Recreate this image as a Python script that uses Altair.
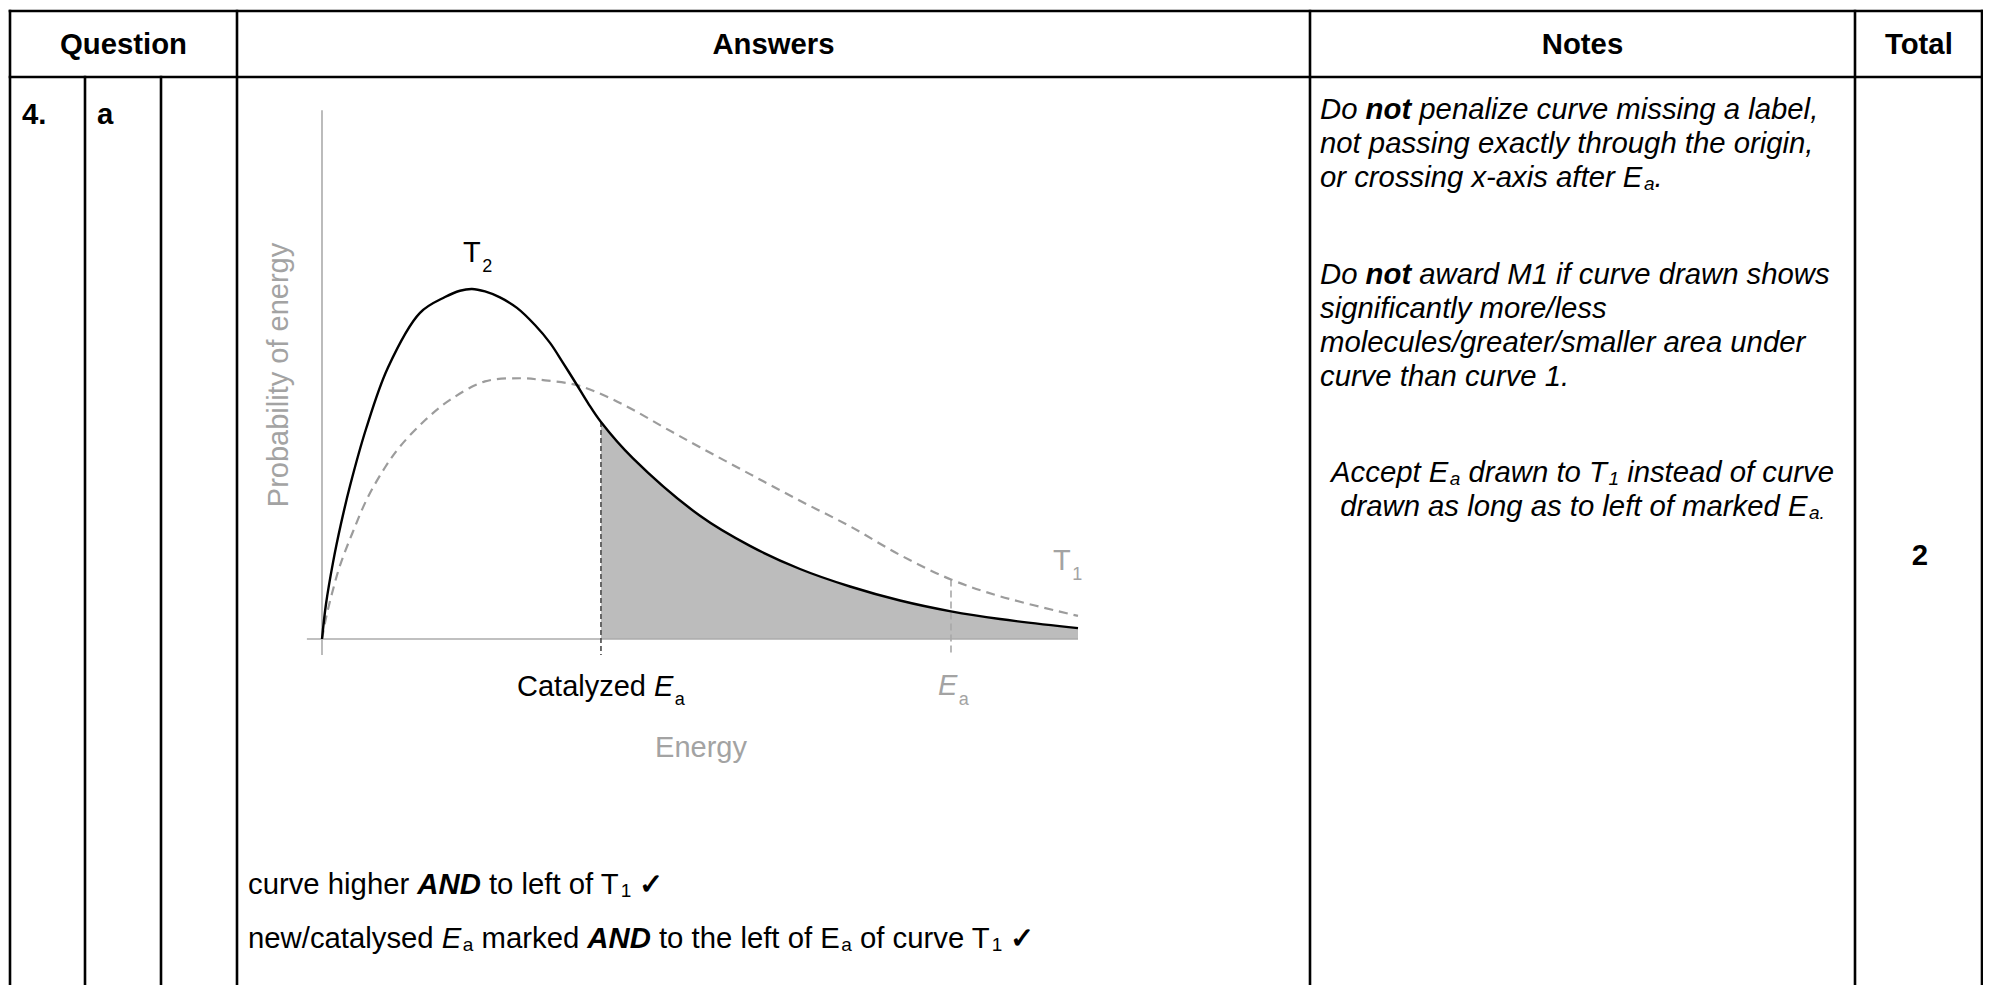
import altair as alt
import pandas as pd

# ------------------------------------------------------------------
# Data
# ------------------------------------------------------------------
# curve T2 (solid, higher curve)
T2_ENERGY = [0.0, 0.053, 0.146, 0.251, 0.370, 0.582, 0.873, 1.296, 1.627, 1.825, 1.984, 2.156,
             2.354, 2.579, 2.817, 3.016, 3.188, 3.360, 3.519, 3.690, 4.114, 5.000, 5.661, 6.323,
             6.984, 7.646, 8.320, 8.968, 10.0]
T2_PROB = [0.0, 0.100, 0.219, 0.329, 0.437, 0.600, 0.776, 0.932, 0.977, 0.995, 1.000, 0.993,
           0.976, 0.946, 0.897, 0.846, 0.789, 0.730, 0.674, 0.620, 0.516, 0.352, 0.266, 0.200,
           0.150, 0.110, 0.079, 0.057, 0.031]

# curve T1 (dashed grey)
T1_ENERGY = [0.0, 0.053, 0.132, 0.238, 0.397, 0.595, 0.833, 1.032, 1.362, 1.693, 2.156, 2.619,
             2.950, 3.360, 3.743, 4.114, 4.537, 5.000, 5.661, 6.323, 6.984, 7.646, 8.320, 8.968, 10.0]
T1_PROB = [0.0, 0.060, 0.130, 0.210, 0.300, 0.400, 0.490, 0.550, 0.625, 0.683, 0.736, 0.745,
           0.739, 0.726, 0.695, 0.655, 0.603, 0.548, 0.471, 0.395, 0.322, 0.240, 0.170, 0.122, 0.066]

CATALYZED_EA = 3.690
EA = 8.320

HEADERS = ["Question", "Answers", "Notes", "Total"]
QUESTION_NUMBER = "4."
QUESTION_PART = "a"
TOTAL_MARKS = "2"
Y_TITLE = "Probability of energy"
X_TITLE = "Energy"

# rich text lines: (text, style) ; styles n, i, b, bi, sub, isub
NOTE_BLOCK_1 = [
    [("Do ", "i"), ("not", "bi"), (" penalize curve missing a label,", "i")],
    [("not passing exactly through the origin,", "i")],
    [("or crossing x-axis after ", "i"), ("E", "i"), ("a", "isub"), (".", "i")],
]
NOTE_BLOCK_2 = [
    [("Do ", "i"), ("not", "bi"), (" award M1 if curve drawn shows", "i")],
    [("significantly more/less", "i")],
    [("molecules/greater/smaller area under", "i")],
    [("curve than curve 1.", "i")],
]
NOTE_BLOCK_3 = [
    [("Accept ", "i"), ("E", "i"), ("a", "isub"), (" drawn to ", "i"), ("T", "i"), ("1", "isub"),
     (" instead of curve", "i")],
    [("drawn as long as to left of marked ", "i"), ("E", "i"), ("a.", "isub")],
]
ANSWER_LINES = [
    [("curve higher ", "n"), ("AND", "bi"), (" to left of T", "n"), ("1", "sub"), (" \u2713", "b")],
    [("new/catalysed ", "n"), ("E", "i"), ("a", "sub"), (" marked ", "n"), ("AND", "bi"),
     (" to the left of E", "n"), ("a", "sub"), (" of curve T", "n"), ("1", "sub"), (" \u2713", "b")],
]

# ------------------------------------------------------------------
# Layout helpers
# ------------------------------------------------------------------
W, H = 1975, 977
M = 8
FONT = "Liberation Sans"
GREY_TXT = "#a3a3a3"
FS = 29.3

REG = {' ': 278, ',': 278, '-': 333, '.': 278, '/': 278, '1': 556, '2': 556, '4': 556,
       'A': 667, 'C': 722, 'D': 722, 'E': 667, 'M': 833, 'N': 722, 'P': 667, 'Q': 778, 'T': 611,
       'a': 556, 'b': 556, 'c': 500, 'd': 556, 'e': 556, 'f': 278, 'g': 556, 'h': 556, 'i': 222,
       'j': 222, 'k': 500, 'l': 222, 'm': 833, 'n': 556, 'o': 556, 'p': 556, 'q': 556, 'r': 333,
       's': 500, 't': 278, 'u': 556, 'v': 500, 'w': 722, 'x': 500, 'y': 500, 'z': 500, '\u2713': 780}
BOLD = {' ': 278, '.': 278, '2': 556, '4': 556, 'A': 722, 'D': 722, 'N': 722, 'Q': 778, 'T': 611,
        'a': 556, 'e': 556, 'i': 278, 'l': 278, 'n': 611, 'o': 611, 'r': 389, 's': 556, 't': 333,
        'u': 611, 'w': 778, '\u2713': 780}
SUB_GAP = 1.5


def seg_width(text, bold, size):
    tbl = BOLD if bold else REG
    return sum(tbl.get(ch, 556) for ch in text) * size / 1000.0


def rich(segments, x, y, size=FS, color="#000000", sub_size=19, sub_dy=3, center=False):
    parts = []
    for text, st in segments:
        is_sub = st.endswith("sub")
        bold = st.startswith("b")
        italic = st in ("i", "bi", "isub")
        sz = sub_size if is_sub else size
        parts.append((text, bold, italic, sz, sub_dy if is_sub else 0, is_sub))
    total = sum(seg_width(t, b, s) + (SUB_GAP if u else 0) for t, b, i, s, d, u in parts)
    cx = x - total / 2.0 if center else x
    rows = []
    for t, b, i, s, d, u in parts:
        if u:
            cx += SUB_GAP
        lead = len(t) - len(t.lstrip(" "))
        shown = t.strip(" ")
        if shown:
            rows.append({"x": cx + seg_width(" " * lead, b, s), "y": y + d, "text": shown,
                         "size": s, "color": color,
                         "weight": "bold" if b else "normal",
                         "fstyle": "italic" if i else "normal"})
        cx += seg_width(t, b, s)
    return rows


PX_X = alt.Scale(domain=[M, M + W], range=[0, W], nice=False, zero=False)
PX_Y = alt.Scale(domain=[M, M + H], range=[0, H], nice=False, zero=False)
# data scales: energy 0..10 -> page px 322..1078 ; probability 0..1 -> page px 639..289
X_D = alt.Scale(domain=[0, 10], range=[322 - M, 1078 - M], nice=False, zero=False)
Y_D = alt.Scale(domain=[0, 1], range=[639 - M, 289 - M], nice=False, zero=False)

# ------------------------------------------------------------------
# Text rows
# ------------------------------------------------------------------
rows = []
header_centers = [123.5, 773.5, 1582.5, 1920]
for h, cxp in zip(HEADERS, header_centers):
    rows += rich([(h, "b")], cxp, 54, center=True)
rows += rich([(QUESTION_NUMBER, "b")], 22, 124)
rows += rich([(QUESTION_PART, "b")], 97, 124)
rows += rich([(TOTAL_MARKS, "b")], 1920, 565, center=True)

for k, line in enumerate(NOTE_BLOCK_1):
    rows += rich(line, 1320, 119 + 34 * k)
for k, line in enumerate(NOTE_BLOCK_2):
    rows += rich(line, 1320, 284 + 34 * k)
for k, line in enumerate(NOTE_BLOCK_3):
    rows += rich(line, 1582.5, 482 + 34 * k, center=True)
for k, line in enumerate(ANSWER_LINES):
    rows += rich(line, 248, 894 + 54 * k)

# chart labels
rows += rich([("T", "n"), ("2", "sub")], 463, 262, size=29, sub_size=18, sub_dy=10)
rows += rich([("T", "n"), ("1", "sub")], 1053, 570, size=29, color=GREY_TXT, sub_size=18, sub_dy=10)
rows += rich([("Catalyzed ", "n"), ("E", "i"), ("a", "sub")], 517, 696, size=29, sub_size=18, sub_dy=9)
rows += rich([("E", "i"), ("a", "sub")], 938, 695, size=29, color=GREY_TXT, sub_size=18, sub_dy=10)
rows += rich([(X_TITLE, "n")], 701, 757, size=29, color=GREY_TXT, center=True)

text_df = pd.DataFrame(rows)


def text_layer(df):
    w = df["weight"].iloc[0]
    s = df["fstyle"].iloc[0]
    return alt.Chart(df).mark_text(align="left", baseline="alphabetic", font=FONT,
                                   fontWeight=w, fontStyle=s).encode(
        x=alt.X("x:Q", scale=PX_X, axis=None),
        y=alt.Y("y:Q", scale=PX_Y, axis=None),
        text="text:N",
        size=alt.Size("size:Q", scale=None),
        color=alt.Color("color:N", scale=None),
    )


text_layers = [text_layer(g) for _, g in text_df.groupby(["weight", "fstyle"])]

ytitle = alt.Chart(pd.DataFrame({"x": [288], "y": [375], "text": [Y_TITLE]})).mark_text(
    align="center", baseline="alphabetic", angle=270, font=FONT, fontSize=29, color=GREY_TXT
).encode(x=alt.X("x:Q", scale=PX_X, axis=None), y=alt.Y("y:Q", scale=PX_Y, axis=None), text="text:N")

# ------------------------------------------------------------------
# Table grid
# ------------------------------------------------------------------
grid = []
for xv in [10, 237, 1310, 1855, 1982]:
    grid.append({"x1": xv, "x2": xv, "y1": 11, "y2": 995})
for xv in [85, 161]:
    grid.append({"x1": xv, "x2": xv, "y1": 77, "y2": 995})
for yv in [11, 77]:
    grid.append({"x1": 10, "x2": 1982, "y1": yv, "y2": yv})
grid_df = pd.DataFrame(grid)
table = alt.Chart(grid_df).mark_rule(color="black", strokeWidth=2.6, strokeCap="square").encode(
    x=alt.X("x1:Q", scale=PX_X, axis=None), x2="x2:Q",
    y=alt.Y("y1:Q", scale=PX_Y, axis=None), y2="y2:Q")

# ------------------------------------------------------------------
# Chart marks (data scales)
# ------------------------------------------------------------------
t2_df = pd.DataFrame({"energy": T2_ENERGY, "prob": T2_PROB})
t1_df = pd.DataFrame({"energy": T1_ENERGY, "prob": T1_PROB})
shade_df = t2_df[t2_df["energy"] >= CATALYZED_EA].assign(base=0.0)

CURVE = "catmull-rom"

shade = alt.Chart(shade_df).mark_area(color="#bcbcbc", interpolate=CURVE).encode(
    x=alt.X("energy:Q", scale=X_D, axis=None),
    y=alt.Y("prob:Q", scale=Y_D, axis=None), y2="base:Q")

axes_df = pd.DataFrame({"e1": [-0.2, 0.0], "e2": [10.0, 0.0], "p1": [0.0, -0.046], "p2": [0.0, 1.511]})
axes = alt.Chart(axes_df).mark_rule(color="#ababab", strokeWidth=1.6).encode(
    x=alt.X("e1:Q", scale=X_D, axis=None), x2="e2:Q",
    y=alt.Y("p1:Q", scale=Y_D, axis=None), y2="p2:Q")

cat_top = T2_PROB[T2_ENERGY.index(CATALYZED_EA)]
ea_top = T1_PROB[T1_ENERGY.index(EA)]
cat_rule = alt.Chart(pd.DataFrame({"e": [CATALYZED_EA], "p1": [cat_top], "p2": [-0.046]})).mark_rule(
    color="#4a4a4a", strokeWidth=1.6, strokeDash=[5, 3]).encode(
    x=alt.X("e:Q", scale=X_D, axis=None), y=alt.Y("p1:Q", scale=Y_D, axis=None), y2="p2:Q")
ea_rule = alt.Chart(pd.DataFrame({"e": [EA], "p1": [ea_top], "p2": [-0.046]})).mark_rule(
    color="#a8a8a8", strokeWidth=1.6, strokeDash=[7, 4]).encode(
    x=alt.X("e:Q", scale=X_D, axis=None), y=alt.Y("p1:Q", scale=Y_D, axis=None), y2="p2:Q")

t1_line = alt.Chart(t1_df).mark_line(color="#9c9c9c", strokeWidth=2.2, strokeDash=[9, 6],
                                     interpolate=CURVE).encode(
    x=alt.X("energy:Q", scale=X_D, axis=None), y=alt.Y("prob:Q", scale=Y_D, axis=None))
t2_line = alt.Chart(t2_df).mark_line(color="black", strokeWidth=2.4, interpolate=CURVE).encode(
    x=alt.X("energy:Q", scale=X_D, axis=None), y=alt.Y("prob:Q", scale=Y_D, axis=None))

layers = [shade, axes, cat_rule, ea_rule, t1_line, t2_line, table, ytitle] + text_layers

chart = alt.layer(*layers).resolve_scale(
    x="independent", y="independent", size="independent", color="independent"
).properties(
    width=W, height=H, padding=0, background="white",
    autosize=alt.AutoSizeParams(type="none"),
).configure_view(stroke=None)

chart.save("out.html", embed_options={"renderer": "svg", "actions": False})
